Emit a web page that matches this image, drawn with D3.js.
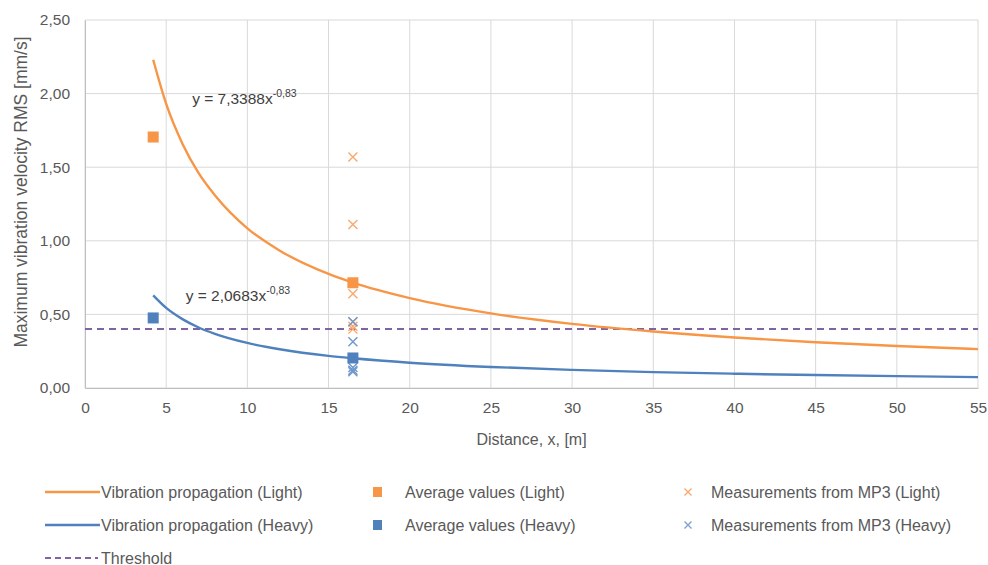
<!DOCTYPE html>
<html><head><meta charset="utf-8">
<script src="https://cdn.jsdelivr.net/npm/d3@7/dist/d3.min.js"></script>
<style>body{margin:0;background:#fff}svg{display:block}text{font-family:"Liberation Sans",Arial,sans-serif;fill:#595959}</style>
</head><body><svg id="c" width="988" height="565"></svg>
<script>
// Data
const xTicks = [0,5,10,15,20,25,30,35,40,45,50,55];
const yTicks = [0,0.5,1,1.5,2,2.5];
const curveX = [4.2,5,6,7,8,10,12,15,16.5,20,25,30,35,40,45,50,55];
const curveLight = [2.23,1.93,1.66,1.46,1.31,1.085,0.933,0.775,0.716,0.611,0.507,0.436,0.384,0.343,0.311,0.285,0.264];
const curveHeavy = [0.629,0.544,0.468,0.411,0.368,0.306,0.263,0.218,0.202,0.172,0.143,0.123,0.108,0.097,0.088,0.081,0.074];
const avgX = [4.2,16.5];
const avgLight = [1.705,0.715];
const avgHeavy = [0.476,0.204];
const measX = 16.5;
const measLight = [1.57,1.11,0.64,0.45,0.42,0.40];
const measHeavy = [0.45,0.315,0.14,0.12,0.11];
const threshold = 0.40;
const eqLight = {x:6.6, y:1.93, text:"y = 7,3388x", exp:"-0,83"};
const eqHeavy = {x:6.2, y:0.59, text:"y = 2,0683x", exp:"-0,83"};
const legendItems = [
  {label:"Vibration propagation (Light)", type:"line", color:"#f79646"},
  {label:"Average values (Light)", type:"square", color:"#f79646"},
  {label:"Measurements from MP3 (Light)", type:"cross", color:"#f9a970"},
  {label:"Vibration propagation (Heavy)", type:"line", color:"#4f81bd"},
  {label:"Average values (Heavy)", type:"square", color:"#4f81bd"},
  {label:"Measurements from MP3 (Heavy)", type:"cross", color:"#7da2d0"},
  {label:"Threshold", type:"dash", color:"#8064a2"}
];

const ORANGE="#f79646", BLUE="#4f81bd", PURPLE="#8064a2";
const svg = d3.select("#c");
const m = {l:85, r:978, t:20, b:388};
const x = d3.scaleLinear().domain([0,55]).range([m.l,m.r]);
const y = d3.scaleLinear().domain([0,2.5]).range([m.b,m.t]);

// gridlines
svg.append("g").selectAll("line").data(yTicks).join("line")
  .attr("x1",m.l).attr("x2",m.r).attr("y1",d=>y(d)).attr("y2",d=>y(d))
  .attr("stroke","#d9d9d9").attr("stroke-width",1);
svg.append("g").selectAll("line").data(xTicks).join("line")
  .attr("y1",m.t).attr("y2",m.b).attr("x1",d=>x(d)).attr("x2",d=>x(d))
  .attr("stroke","#d9d9d9").attr("stroke-width",1);
// axes
const fmt = d=>d3.format(".2f")(d).replace(".",",");
const ya = svg.append("g").attr("transform",`translate(${m.l},0)`)
  .call(d3.axisLeft(y).tickValues(yTicks).tickFormat(fmt).tickSize(0).tickPadding(15));
ya.select(".domain").attr("stroke","#bfbfbf");
ya.selectAll("text").attr("font-size",15.5).style("fill","#595959").attr("font-family","Liberation Sans");
const xa = svg.append("g").attr("transform",`translate(0,${m.b})`)
  .call(d3.axisBottom(x).tickValues(xTicks).tickFormat(d3.format("d")).tickSize(0).tickPadding(14));
xa.select(".domain").attr("stroke","#bfbfbf");
xa.selectAll("text").attr("font-size",15.5).style("fill","#595959").attr("font-family","Liberation Sans");

svg.append("text").attr("x",(m.l+m.r)/2).attr("y",445).attr("text-anchor","middle")
  .attr("font-size",16).text("Distance, x, [m]");
svg.append("text").attr("transform",`translate(27,192) rotate(-90)`)
  .attr("text-anchor","middle").attr("font-size",17.5).text("Maximum vibration velocity RMS [mm/s]");

// threshold
svg.append("line").attr("x1",m.l).attr("x2",m.r).attr("y1",y(threshold)).attr("y2",y(threshold))
  .attr("stroke",PURPLE).attr("stroke-width",2).attr("stroke-dasharray","7,5");

// curves
const line = d3.line().x(d=>x(d[0])).y(d=>y(d[1])).curve(d3.curveMonotoneX);
svg.append("path").attr("d",line(curveX.map((v,i)=>[v,curveLight[i]])))
  .attr("fill","none").attr("stroke",ORANGE).attr("stroke-width",2.4);
svg.append("path").attr("d",line(curveX.map((v,i)=>[v,curveHeavy[i]])))
  .attr("fill","none").attr("stroke",BLUE).attr("stroke-width",2.4);

// equations
[eqLight,eqHeavy].forEach(e=>{
  const t = svg.append("text").attr("x",x(e.x)).attr("y",y(e.y)).attr("font-size",15.5).style("fill","#404040");
  t.append("tspan").text(e.text);
  t.append("tspan").attr("dy",-7).attr("font-size",10.5).text(e.exp);
});

// crosses
function cross(g,cx,cy,s,color){
  g.append("path").attr("d",`M${cx-s},${cy-s}L${cx+s},${cy+s}M${cx-s},${cy+s}L${cx+s},${cy-s}`)
   .attr("stroke",color).attr("stroke-width",1.4).attr("fill","none");
}
const cg = svg.append("g");
measLight.forEach(v=>cross(cg,x(measX),y(v),4.5,"#f9a970"));
measHeavy.forEach(v=>cross(cg,x(measX),y(v),4.5,"#6f98cc"));

// squares
function sq(cx,cy,color){
  svg.append("rect").attr("x",cx-5.5).attr("y",cy-5.5).attr("width",11).attr("height",11).attr("fill",color);
}
avgX.forEach((v,i)=>sq(x(v),y(avgLight[i]),ORANGE));
avgX.forEach((v,i)=>sq(x(v),y(avgHeavy[i]),BLUE));

// legend
const colX=[45,377,683], rowY=[492,525,558];
const lg = svg.append("g");
legendItems.forEach((it,i)=>{
  const col = i===6?0:i%3, row = i===6?2:Math.floor(i/3);
  const lx = colX[col], ly=rowY[row];
  let tx;
  if(it.type==="line"){
    lg.append("line").attr("x1",lx).attr("x2",lx+55).attr("y1",ly).attr("y2",ly).attr("stroke",it.color).attr("stroke-width",2.4);
    tx = lx+56;
  } else if(it.type==="dash"){
    lg.append("line").attr("x1",lx).attr("x2",lx+53).attr("y1",ly).attr("y2",ly).attr("stroke",it.color).attr("stroke-width",2).attr("stroke-dasharray","6,4");
    tx = lx+56;
  } else if(it.type==="square"){
    lg.append("rect").attr("x",lx-4).attr("y",ly-5).attr("width",9).attr("height",10).attr("fill",it.color);
    tx = lx+28;
  } else {
    cross(lg,lx+5,ly,3.5,it.color);
    tx = lx+28;
  }
  lg.append("text").attr("x",tx).attr("y",ly+5.5).attr("font-size",16).text(it.label);
});
</script></body></html>
